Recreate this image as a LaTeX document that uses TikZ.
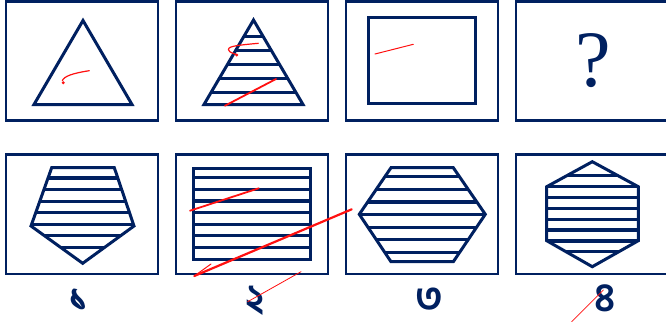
\documentclass[tikz,border=0pt]{standalone}
\usepackage{fontspec}
\usepackage{tikz}
\newfontfamily\bnfont[Script=Bengali]{Hind Siliguri}
\newfontfamily\qfont{Liberation Serif}
\definecolor{navy}{HTML}{002060}
\definecolor{inkred}{HTML}{FF1010}

\begin{document}
\begin{tikzpicture}[x=1pt,y=-1pt,
  frame/.style={draw=navy,line width=2.7pt},
  figline/.style={draw=navy,line width=3pt,line join=miter},
  stripe/.style={draw=navy,line width=3.2pt},
  scribble/.style={draw=inkred,line width=1.2pt,line cap=round,line join=round},
  digit/.style={text=navy,inner sep=0pt,anchor=base,text height=22pt,text depth=2pt,
    font=\bnfont\bfseries\fontsize{40}{40}\selectfont}]
  \useasboundingbox (0,0) rectangle (666,322);
  \foreach \x in {6,176,346,516} {
    \draw[frame] (\x,1.5) rectangle ++(152,119);
    \draw[frame] (\x,154.5) rectangle ++(152,119.5);
  }
  % top row
  \draw[figline] (83,20.5) -- (34,104.5) -- (132,104.5) -- cycle;
  \begin{scope}
    \clip (253.5,20) -- (204,104.5) -- (303,104.5) -- cycle;
    \foreach \y in {36.5,50.4,64.3,78.2,92.1}
      \draw[stripe] (200,\y) -- (310,\y);
  \end{scope}
  \draw[figline] (253.5,20) -- (204,104.5) -- (303,104.5) -- cycle;
  \draw[figline] (368,17.3) rectangle (475.7,103);
  \node[text=navy,inner sep=0pt,font=\qfont\fontsize{80}{80}\selectfont] (qmark) at (593,61) {?};
  % answer row
  \begin{scope}
    \clip (51.7,167.7) -- (114.3,167.7) -- (134,226) -- (82.7,263.3) -- (31,226) -- cycle;
    \foreach \y in {178,189.6,201.1,212.7,224.2,235.8,247.3}
      \draw[stripe] (25,\y) -- (140,\y);
  \end{scope}
  \draw[figline] (51.7,167.7) -- (114.3,167.7) -- (134,226) -- (82.7,263.3) -- (31,226) -- cycle;
  \foreach \y in {177.7,189.3,200.9,212.5,224.1,235.7,247.3}
    \draw[stripe] (193.7,\y) -- (310.3,\y);
  \draw[figline] (193.7,168) rectangle (310.3,259.7);
  \begin{scope}
    \clip (391,167.7) -- (453.3,167.7) -- (485.3,214.3) -- (453.3,261.7) -- (391,261.7) -- (359.3,214.3) -- cycle;
    \foreach \y in {176.7,189.3,201.9,214.5,227.1,239.7,252.3}
      \draw[stripe] (355,\y) -- (490,\y);
  \end{scope}
  \draw[figline] (391,167.7) -- (453.3,167.7) -- (485.3,214.3) -- (453.3,261.7) -- (391,261.7) -- (359.3,214.3) -- cycle;
  \begin{scope}
    \clip (592.3,161.7) -- (638.3,186.7) -- (638.3,240.7) -- (592.3,266.7) -- (546.7,240.7) -- (546.7,186.7) -- cycle;
    \foreach \y in {175.7,186.6,197.4,208.3,219.1,230,240.9,251.7}
      \draw[stripe] (540,\y) -- (645,\y);
  \end{scope}
  \draw[figline] (592.3,161.7) -- (638.3,186.7) -- (638.3,240.7) -- (592.3,266.7) -- (546.7,240.7) -- (546.7,186.7) -- cycle;
  \node[digit] (one) at (79,311) {১};
  \node[digit] (two) at (255,312) {২};
  \node[digit] (three) at (429,311) {৩};
  \node[digit] (four) at (605,311) {৪};
  % red pen marks
  \draw[scribble] (89.3,70.7) .. controls (74,73) and (64,76) .. (62.3,80.7);
  \fill[inkred] (63.3,82.7) circle (1.6);
  \draw[scribble] (258.3,43.3) .. controls (240,45) and (228,46) .. (228.5,49.5) .. controls (229,53) and (234,53) .. (236.7,55);
  \fill[inkred] (236.7,55) circle (1.6);
  \draw[scribble,line width=1.8pt] (276,79) -- (225,105.7);
  \draw[scribble,line width=1pt] (375,54) -- (413.3,44.3);
  \draw[scribble,line width=1.8pt] (258.7,188.3) -- (190,210.7);
  \draw[scribble,line width=2.2pt] (351.7,209.3) -- (194.3,276);
  \draw[scribble,line width=1pt] (211,264) -- (194.3,276);
  \draw[scribble,line width=0.8pt] (301,271.7) -- (247.7,301.7);
  \draw[scribble,line width=0.8pt] (603.3,290) -- (571.7,321.7);
\end{tikzpicture}
\end{document}
